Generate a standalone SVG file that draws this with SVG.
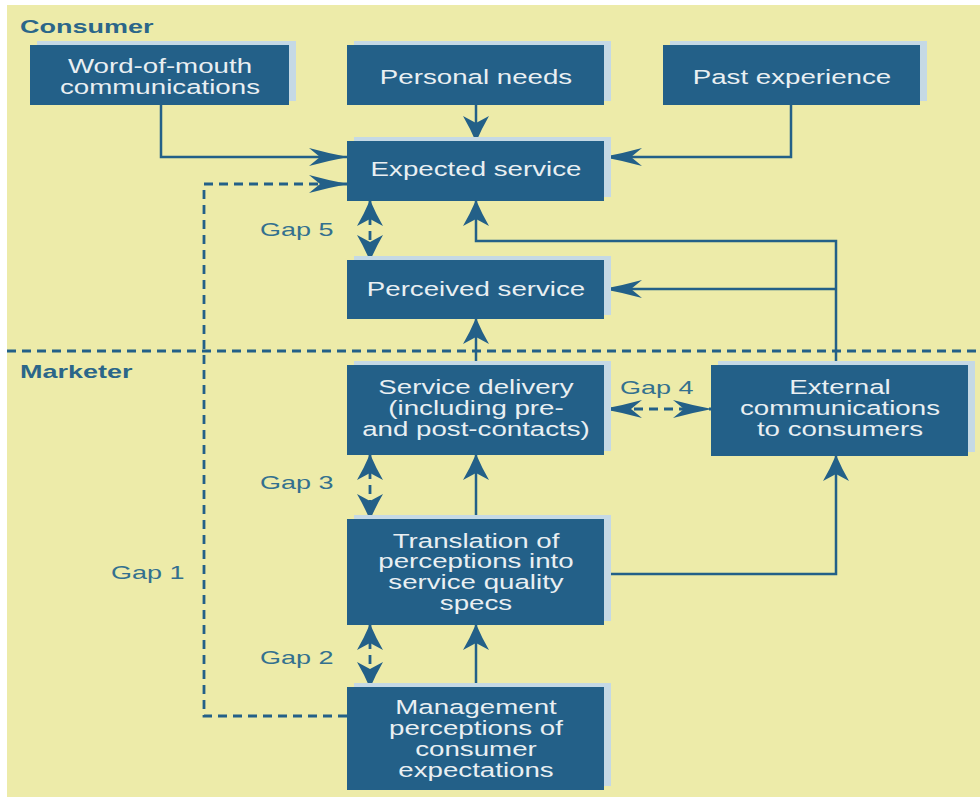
<svg xmlns="http://www.w3.org/2000/svg" width="980" height="797" viewBox="0 0 980 797">
<style>
.bg{fill:#EDEBA9}
.sh{fill:#C5D9E5}
.bx{fill:#236088}
.bt{font-family:"Liberation Sans",Arial,sans-serif;font-size:19.5px;fill:#E9EFF2;text-anchor:middle}
.hd{font-family:"Liberation Sans",Arial,sans-serif;font-size:19px;font-weight:bold;fill:#2B6689}
.gp{font-family:"Liberation Sans",Arial,sans-serif;font-size:19px;fill:#33708F}
.ln{fill:none;stroke:#236088;stroke-width:2.5}
.ds{fill:none;stroke:#236088;stroke-width:2.8;stroke-dasharray:9 6}
.mk{fill:#236088}
</style>
<defs>
<marker id="ah" markerUnits="userSpaceOnUse" orient="auto-start-reverse" overflow="visible" markerWidth="40" markerHeight="30" refX="0" refY="0">
<path class="mk" d="M1,0 Q-20,-4 -38,-9 L-27,0 L-38,9 Q-20,4 1,0Z"/>
</marker>
<marker id="av" markerUnits="userSpaceOnUse" orient="auto-start-reverse" overflow="visible" markerWidth="40" markerHeight="30" refX="0" refY="0">
<path class="mk" d="M1,0 Q-13,-6 -25,-13 L-18,0 L-25,13 Q-13,6 1,0Z"/>
</marker>
</defs>
<rect class="bg" x="7" y="5" width="973" height="792"/>
<path class="ds" d="M7,351 H980"/>
<g transform="translate(20 0) scale(1.42 1)"><text class="hd" x="0" y="33">Consumer</text></g>
<g transform="translate(20 0) scale(1.42 1)"><text class="hd" x="0" y="378">Marketer</text></g>
<g id="connectors">
<path class="ln" d="M161,105 V157 H347" marker-end="url(#ah)"/>
<path class="ln" d="M476,105 V141" marker-end="url(#av)"/>
<path class="ln" d="M791,105 V157 H604" marker-end="url(#ah)"/>
<path class="ds" d="M347,716 H204 V184 H347" marker-end="url(#ah)"/>
<path class="ds" d="M370,201 V260" marker-start="url(#av)" marker-end="url(#av)"/>
<path class="ln" d="M836,365 V241 H476 V201" marker-end="url(#av)"/>
<path class="ln" d="M836,289 H604" marker-end="url(#ah)"/>
<path class="ln" d="M476,365 V319" marker-end="url(#av)"/>
<path class="ds" d="M604,409 H711" marker-start="url(#ah)" marker-end="url(#ah)"/>
<path class="ds" d="M370,455 V519" marker-start="url(#av)" marker-end="url(#av)"/>
<path class="ln" d="M476,519 V455" marker-end="url(#av)"/>
<path class="ln" d="M604,574 H836 V456" marker-end="url(#av)"/>
<path class="ds" d="M370,625 V687" marker-start="url(#av)" marker-end="url(#av)"/>
<path class="ln" d="M476,687 V625" marker-end="url(#av)"/>
</g>
<g id="gap-labels">
<g transform="translate(260 0) scale(1.42 1)"><text class="gp" x="0" y="236">Gap 5</text></g>
<g transform="translate(620 0) scale(1.42 1)"><text class="gp" x="0" y="394">Gap 4</text></g>
<g transform="translate(260 0) scale(1.42 1)"><text class="gp" x="0" y="489">Gap 3</text></g>
<g transform="translate(111 0) scale(1.42 1)"><text class="gp" x="0" y="579">Gap 1</text></g>
<g transform="translate(260 0) scale(1.42 1)"><text class="gp" x="0" y="664">Gap 2</text></g>
</g>
<g id="word-of-mouth">
<rect class="sh" x="37" y="41" width="259" height="60"/>
<rect class="bx" x="30" y="45" width="259" height="60"/>
<g transform="translate(160 0) scale(1.42 1)"><text class="bt" x="0" y="73">Word-of-mouth</text><text class="bt" x="0" y="94">communications</text></g>
</g>
<g id="personal-needs">
<rect class="sh" x="354" y="41" width="257" height="60"/>
<rect class="bx" x="347" y="45" width="257" height="60"/>
<g transform="translate(476 0) scale(1.42 1)"><text class="bt" x="0" y="84">Personal needs</text></g>
</g>
<g id="past-experience">
<rect class="sh" x="670" y="41" width="257" height="60"/>
<rect class="bx" x="663" y="45" width="257" height="60"/>
<g transform="translate(792 0) scale(1.42 1)"><text class="bt" x="0" y="84">Past experience</text></g>
</g>
<g id="expected-service">
<rect class="sh" x="354" y="137" width="257" height="60"/>
<rect class="bx" x="347" y="141" width="257" height="60"/>
<g transform="translate(476 0) scale(1.42 1)"><text class="bt" x="0" y="176">Expected service</text></g>
</g>
<g id="perceived-service">
<rect class="sh" x="354" y="256" width="257" height="59"/>
<rect class="bx" x="347" y="260" width="257" height="59"/>
<g transform="translate(476 0) scale(1.42 1)"><text class="bt" x="0" y="296">Perceived service</text></g>
</g>
<g id="service-delivery">
<rect class="sh" x="354" y="361" width="257" height="90"/>
<rect class="bx" x="347" y="365" width="257" height="90"/>
<g transform="translate(476 0) scale(1.42 1)"><text class="bt" x="0" y="394">Service delivery</text><text class="bt" x="0" y="415">(including pre-</text><text class="bt" x="0" y="436">and post-contacts)</text></g>
</g>
<g id="external-communications">
<rect class="sh" x="718" y="361" width="257" height="91"/>
<rect class="bx" x="711" y="365" width="257" height="91"/>
<g transform="translate(840 0) scale(1.42 1)"><text class="bt" x="0" y="394">External</text><text class="bt" x="0" y="415">communications</text><text class="bt" x="0" y="436">to consumers</text></g>
</g>
<g id="translation">
<rect class="sh" x="354" y="515" width="257" height="106"/>
<rect class="bx" x="347" y="519" width="257" height="106"/>
<g transform="translate(476 0) scale(1.42 1)"><text class="bt" x="0" y="548">Translation of</text><text class="bt" x="0" y="568">perceptions into</text><text class="bt" x="0" y="589">service quality</text><text class="bt" x="0" y="610">specs</text></g>
</g>
<g id="management-perceptions">
<rect class="sh" x="354" y="683" width="257" height="103"/>
<rect class="bx" x="347" y="687" width="257" height="103"/>
<g transform="translate(476 0) scale(1.42 1)"><text class="bt" x="0" y="714">Management</text><text class="bt" x="0" y="735">perceptions of</text><text class="bt" x="0" y="756">consumer</text><text class="bt" x="0" y="777">expectations</text></g>
</g>
</svg>
